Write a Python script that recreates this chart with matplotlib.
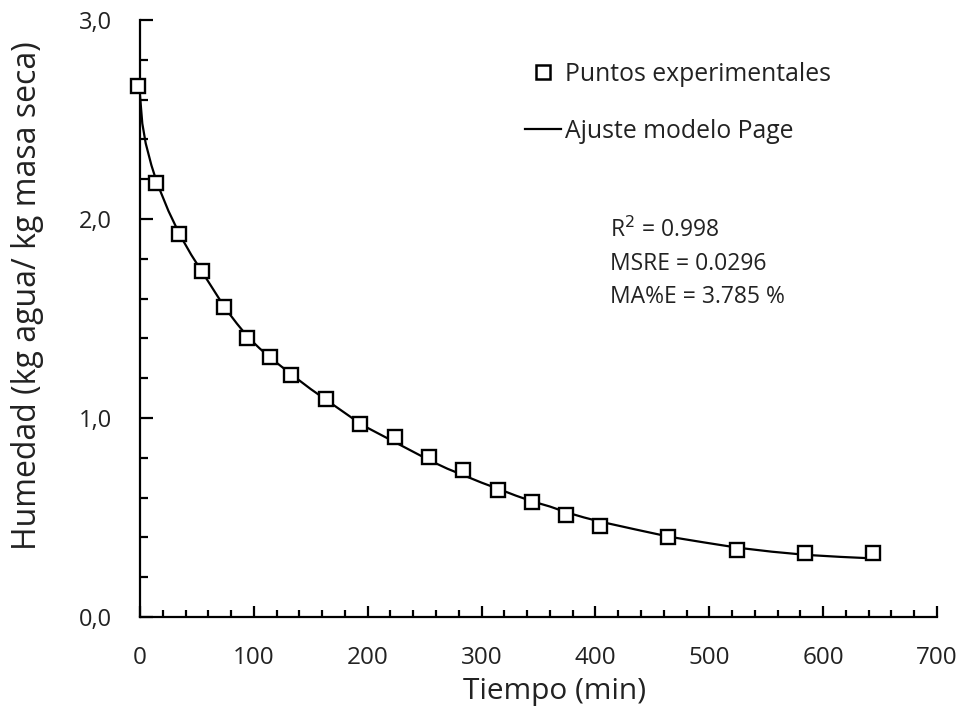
import matplotlib
matplotlib.use("Agg")
import matplotlib.pyplot as plt
from matplotlib.ticker import MultipleLocator, FuncFormatter
from matplotlib.lines import Line2D

plt.rcParams['font.family'] = ['Open Sans', 'DejaVu Sans']

# Experimental points
t_exp = [-2, 14, 34, 54, 74, 94, 114, 133, 163, 193, 224, 254, 284, 314, 344, 374, 404, 464, 524, 584, 644]
x_exp = [2.668, 2.18, 1.925, 1.739, 1.558, 1.402, 1.307, 1.216, 1.095, 0.97, 0.905, 0.804, 0.739, 0.638,
         0.578, 0.513, 0.457, 0.402, 0.337, 0.322, 0.322]

# Page model curve
t_fit = [0, 2, 5, 10, 15, 25, 35, 45, 55, 65, 75, 85, 95, 105, 115, 135, 150, 165, 180, 195, 210, 225,
         240, 255, 270, 285, 300, 315, 330, 345, 360, 375, 390, 405, 435, 465, 495, 525, 555, 585, 615, 645]
x_fit = [2.62, 2.48, 2.38, 2.27, 2.18, 2.04, 1.92, 1.82, 1.73, 1.64, 1.55, 1.475, 1.405, 1.35, 1.30, 1.21,
         1.145, 1.085, 1.025, 0.965, 0.92, 0.875, 0.83, 0.785, 0.745, 0.71, 0.675, 0.643, 0.61, 0.58,
         0.555, 0.525, 0.50, 0.478, 0.44, 0.403, 0.375, 0.348, 0.328, 0.312, 0.302, 0.294]

stats_lines = ["R$^2$ = 0.998", "MSRE = 0.0296", "MA%E = 3.785 %"]

TXT = '#222222'

fig = plt.figure(figsize=(9.63, 7.14), dpi=100)
ax = fig.add_axes([0.1454, 0.1359, 0.8276, 0.8361])

ax.plot(t_fit, x_fit, color='black', lw=1.6, zorder=2)
ax.plot(t_exp, x_exp, linestyle='none', marker='s', markersize=10.5, markerfacecolor='white',
        markeredgecolor='black', markeredgewidth=1.7, zorder=3, clip_on=False)

ax.set_xlim(0, 700)
ax.set_ylim(0, 3.0)
ax.xaxis.set_major_locator(MultipleLocator(100))
ax.xaxis.set_minor_locator(MultipleLocator(20))
ax.yaxis.set_major_locator(MultipleLocator(1.0))
ax.yaxis.set_minor_locator(MultipleLocator(0.2))
ax.yaxis.set_major_formatter(FuncFormatter(lambda v, p: f"{v:.1f}".replace('.', ',')))

for s in ['top', 'right']:
    ax.spines[s].set_visible(False)
for s in ['left', 'bottom']:
    ax.spines[s].set_linewidth(1.6)
    ax.spines[s].set_color('black')

ax.tick_params(axis='x', which='major', direction='in', length=8, width=1.6, labelsize=17.5, pad=21, labelcolor=TXT)
ax.tick_params(axis='x', which='minor', direction='in', length=5, width=1.6)
ax.tick_params(axis='y', which='major', direction='in', length=9, width=1.6, labelsize=17, pad=20, labelcolor=TXT)
ax.tick_params(axis='y', which='minor', direction='in', length=6, width=1.6)

ax.set_xlabel("Tiempo (min)", fontsize=21.5, color=TXT)
ax.xaxis.set_label_coords(0.52, -0.1)
ax.set_ylabel("Humedad (kg agua/ kg masa seca)", fontsize=23, color=TXT)
ax.yaxis.set_label_coords(-0.121, 0.539)

handles = [Line2D([], [], linestyle='none', marker='s', markersize=10, markerfacecolor='white',
                  markeredgecolor='black', markeredgewidth=1.8),
           Line2D([], [], color='black', lw=1.6)]
leg = ax.legend(handles, ["Puntos experimentales", "Ajuste modelo Page"], loc='upper left',
                bbox_to_anchor=(0.483, 0.93), frameon=False, fontsize=17.8, handlelength=1.45,
                handletextpad=0.15, labelspacing=1.3, borderpad=0, borderaxespad=0)
for txt in leg.get_texts():
    txt.set_color(TXT)

ax.text(0.59, 0.668, "\n".join(stats_lines), transform=ax.transAxes, fontsize=16.5,
        color=TXT, va='top', ha='left', linespacing=1.5)

fig.savefig("out.png", dpi=100)
